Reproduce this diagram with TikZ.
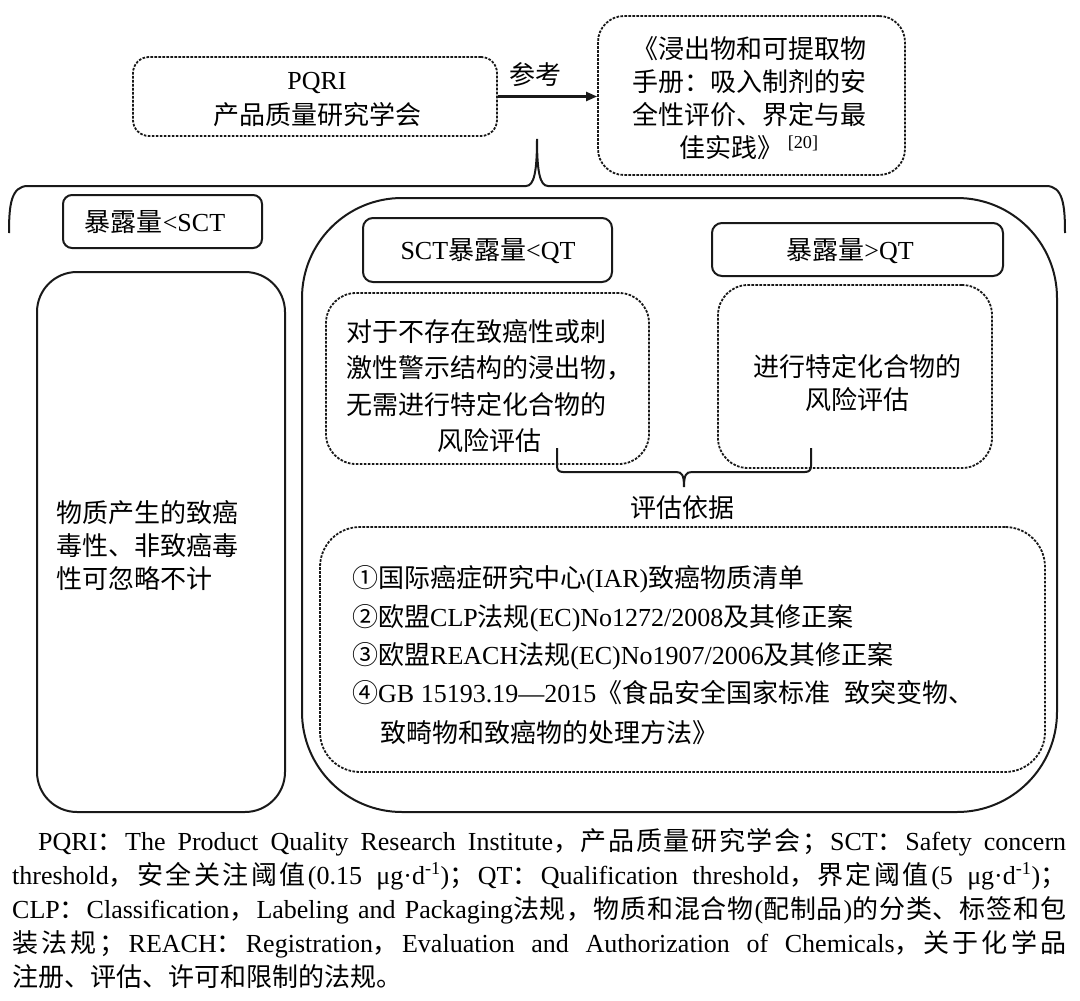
\documentclass[tikz,border=0pt]{standalone}
\usepackage{fontspec}
\setmainfont{Liberation Serif}
\newfontfamily\zhfont{Noto Sans CJK SC}
\newcommand\zw[1]{{\zhfont #1}}
\makeatletter
\def\zs@loop#1{\ifx#1\relax\else#1\hskip0pt plus 1pt\relax\expandafter\zs@loop\fi}
\newcommand\zs[1]{{\zhfont\zs@loop#1\relax}}
\makeatother
\usetikzlibrary{arrows.meta}
\begin{document}
\begin{tikzpicture}[x=1pt,y=-1pt,
  solidbox/.style={draw=black!90, line width=2pt, inner sep=0pt},
  dotbox/.style={draw=black!90, line width=1.8pt, dash pattern=on 2.6pt off 1.4pt, inner sep=0pt},
  txt/.style={font=\fontsize{26}{33}\selectfont, align=center, inner sep=0pt},
  ltxt/.style={font=\fontsize{26}{33}\selectfont, align=left, inner sep=0pt},
  capline/.style={font=\fontsize{26}{33}\selectfont, inner sep=0pt, anchor=base west},
  brace/.style={draw=black!90, line width=2pt},
]
\useasboundingbox (0,0) rectangle (1080,1001);

% top row
\node[dotbox, rounded corners=16pt, minimum width=364pt, minimum height=79pt] (pqri) at (315,96.5) {};
\node[txt] (pqrit) at (317,99.5) {PQRI\\[2pt]\zw{产品质量研究学会}};
\node[dotbox, rounded corners=26pt, minimum width=307pt, minimum height=159pt] (book) at (751.5,95.5) {};
\node[txt] (bookt) at (749,98) {\zw{《浸出物和可提取物}\\\zw{手册：吸入制剂的安}\\\zw{全性评价、界定与最}\\\zw{佳实践》}\,\textsuperscript{[20]}};
\draw[draw=black!90, line width=2.2pt, -{Triangle[length=11pt,width=9pt]}] (pqri.east) -- (pqri.east -| book.west);
\node[txt] (ref) at (535,75) {\zw{参考}};

% big brace
\coordinate (bL) at (9,233);
\coordinate (bR) at (1065,233);
\coordinate (bP) at (537,139);
\draw[brace] (bL) .. controls (9,205) and (11,186) .. (28,186) -- (526,186)
  .. controls (534,186) and (537,172) .. (bP)
  .. controls (537,172) and (540,186) .. (548,186) -- (1046,186)
  .. controls (1063,186) and (1065,205) .. (bR);

% left column
\node[solidbox, rounded corners=9pt, minimum width=199pt, minimum height=53pt] (lsct) at (162.5,221.5) {};
\node[txt] (lsctt) at (155,222) {\zw{暴露量}<SCT};
\node[solidbox, rounded corners=40pt, minimum width=248pt, minimum height=540pt] (lbox) at (161,542) {};
\node[ltxt, anchor=west] (lboxt) at (56,546) {\zw{物质产生的致癌}\\\zw{毒性、非致癌毒}\\\zw{性可忽略不计}};

% right big box
\node[solidbox, rounded corners=100pt, minimum width=755pt, minimum height=614pt] (big) at (679.5,505) {};
\node[solidbox, rounded corners=10pt, minimum width=249pt, minimum height=64pt] (sqt) at (487.5,250) {};
\node[txt] (sqtt) at (488,251) {SCT\zw{暴露量}<QT};
\node[solidbox, rounded corners=10pt, minimum width=291pt, minimum height=53pt] (gqt) at (857.5,249.5) {};
\node[txt] (gqtt) at (850,251) {\zw{暴露量}>QT};

\node[dotbox, rounded corners=30pt, minimum width=323pt, minimum height=171pt] (d1) at (487.5,378.5) {};
\node[txt, font=\fontsize{26}{36.5}\selectfont] (d1t) at (489,386) {\makebox[286pt][l]{\zw{对于不存在致癌性或刺}}\\\zw{激性警示结构的浸出物，}\\\makebox[286pt][l]{\zw{无需进行特定化合物的}}\\\zw{风险评估}};
\node[dotbox, rounded corners=30pt, minimum width=274pt, minimum height=183pt] (d2) at (855,376.5) {};
\node[txt] (d2t) at (857,383.5) {\zw{进行特定化合物的}\\\zw{风险评估}};

% small brace
\coordinate (sL) at (557,448);
\coordinate (sR) at (811,448);
\coordinate (sS) at (684,487);
\draw[brace] (sL) -- (557,466) .. controls (557,470) and (559,472) .. (563,472) -- (676,472)
  .. controls (682,472) and (684,475) .. (sS)
  .. controls (684,475) and (686,472) .. (692,472) -- (805,472)
  .. controls (809,472) and (811,470) .. (811,466) -- (sR);
\node[txt] (basis) at (682,508) {\zw{评估依据}};

\node[dotbox, rounded corners=40pt, minimum width=725pt, minimum height=245pt] (d3) at (682.5,649.5) {};
\node[capline] (l1) at (352,587) {\zw{①国际癌症研究中心}(IAR)\zw{致癌物质清单}};
\node[capline] (l2) at (352,626) {\zw{②欧盟}CLP\zw{法规}(EC)No1272/2008\zw{及其修正案}};
\node[capline] (l3) at (352,664) {\zw{③欧盟}REACH\zw{法规}(EC)No1907/2006\zw{及其修正案}};
\node[capline] (l4) at (352,702) {\zw{④}GB 15193.19—2015\zw{《食品安全国家标准}\hspace{14pt}\zw{致突变物、}};
\node[capline] (l5) at (380,742) {\zw{致畸物和致癌物的处理方法》}};

% caption
\begingroup
\fontsize{26}{33}\selectfont
\spaceskip=0.25em plus 0.1em minus 0.05em
\node[capline] (c1) at (38,850) {\makebox[1028pt][s]{PQRI\zs{：}The Product Quality Research Institute\zs{，产品质量研究学会；}SCT\zs{：}Safety concern}};
\node[capline] (c2) at (12,884) {\makebox[1054pt][s]{threshold\zs{，安全关注阈值}(0.15 μg·d\textsuperscript{-1})\zs{；}QT\zs{：}Qualification threshold\zs{，界定阈值}(5 μg·d\textsuperscript{-1})\zw{；}}};
\node[capline] (c3) at (12,918) {\makebox[1054pt][s]{CLP\zs{：}Classification\zs{，}Labeling and Packaging\zs{法规，物质和混合物}(\zs{配制品})\zs{的分类、标签和}\zw{包}}};
\node[capline] (c4) at (12,952) {\makebox[1054pt][s]{\zs{装法规；}REACH\zs{：}Registration\zs{，}Evaluation and Authorization of Chemicals\zs{，关于化学}\zw{品}}};
\node[capline] (c5) at (12,986) {\zw{注册、评估、许可和限制的法规。}};
\endgroup
\end{tikzpicture}
\end{document}
